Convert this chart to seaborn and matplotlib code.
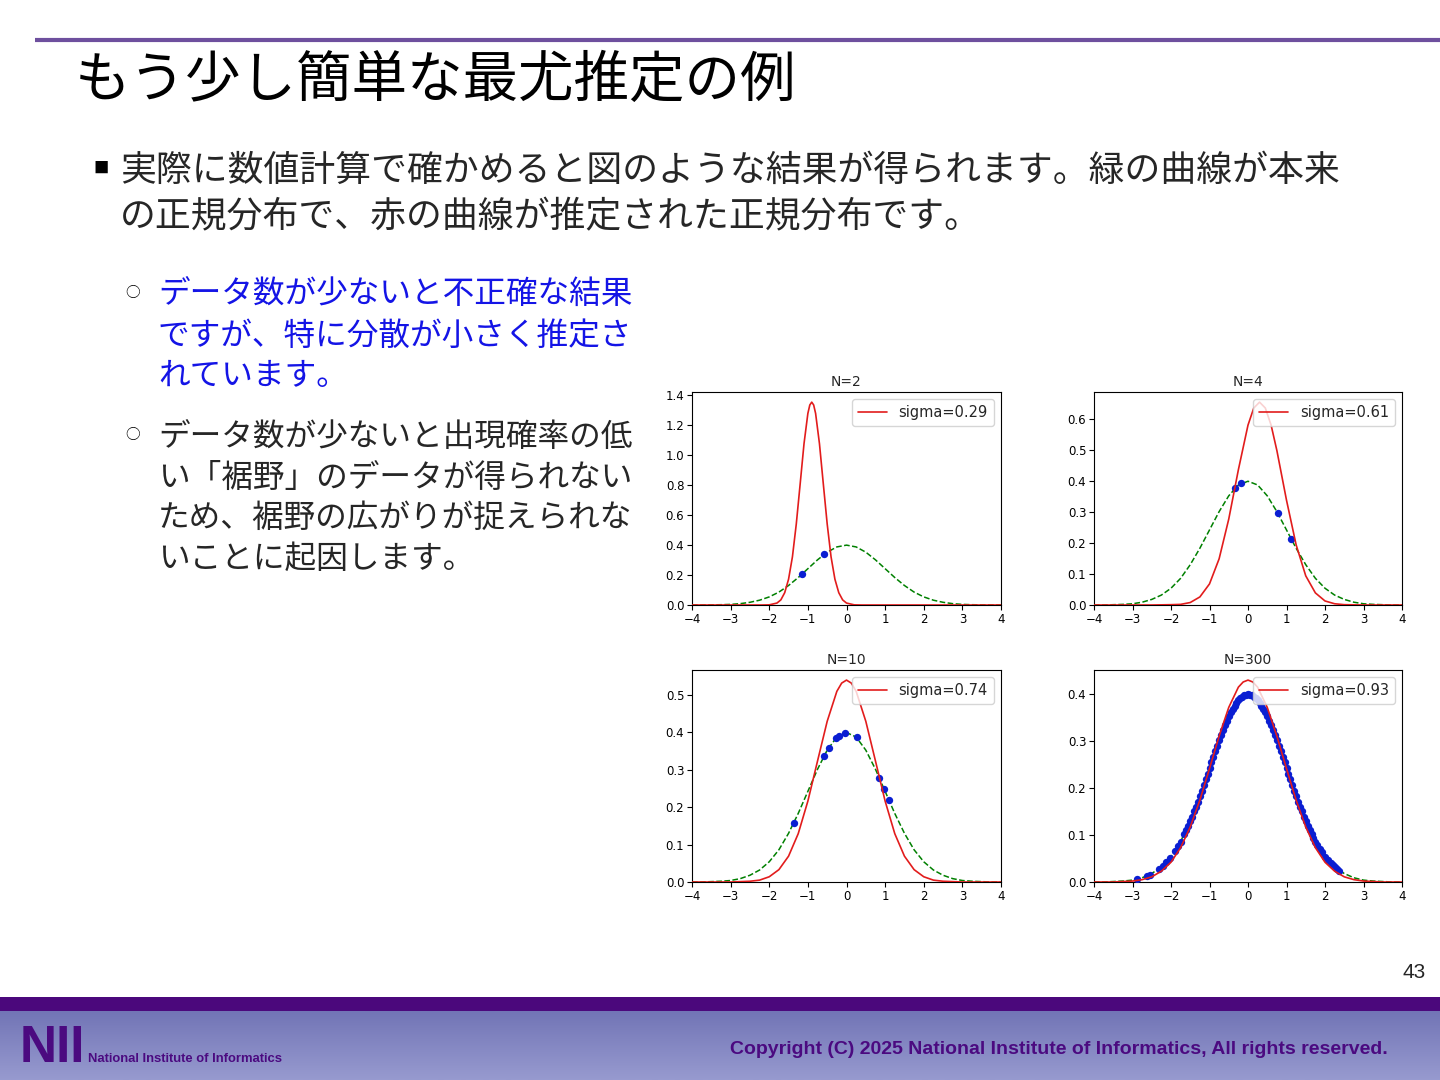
import numpy as np
import matplotlib
matplotlib.use("Agg")
import matplotlib.pyplot as plt
from matplotlib.patches import Rectangle
from matplotlib.colors import LinearSegmentedColormap
import seaborn as sns

# ---------------- slide text ----------------
TITLE = "もう少し簡単な最尤推定の例"
BULLET_LINES = ["実際に数値計算で確かめると図のような結果が得られます。緑の曲線が本来",
                "の正規分布で、赤の曲線が推定された正規分布です。"]
SUB1_LINES = ["データ数が少ないと不正確な結果",
              "ですが、特に分散が小さく推定さ",
              "れています。"]
SUB2_LINES = ["データ数が少ないと出現確率の低",
              "い「裾野」のデータが得られない",
              "ため、裾野の広がりが捉えられな",
              "いことに起因します。"]
PAGE_NO = "43"
COPYRIGHT = "Copyright (C) 2025 National Institute of Informatics, All rights reserved."

# ---------------- chart data ----------------
TRUE_X = [-4.0, -3.75, -3.5, -3.25, -3.0, -2.75, -2.5, -2.25, -2.0, -1.75, -1.5, -1.25, -1.0,
          -0.75, -0.5, -0.25, 0.0, 0.25, 0.5, 0.75, 1.0, 1.25, 1.5, 1.75, 2.0, 2.25, 2.5,
          2.75, 3.0, 3.25, 3.5, 3.75, 4.0]
TRUE_Y = [0.000, 0.000, 0.001, 0.002, 0.004, 0.009, 0.018, 0.032, 0.054, 0.086, 0.130, 0.183, 0.242,
          0.301, 0.352, 0.387, 0.399, 0.387, 0.352, 0.301, 0.242, 0.183, 0.130, 0.086, 0.054, 0.032,
          0.018, 0.009, 0.004, 0.002, 0.001, 0.000, 0.000]

# N=2
RED2_X = [-4.0, -3.0, -2.2, -2.0, -1.8, -1.7, -1.6, -1.5, -1.4, -1.3, -1.2, -1.1, -1.0, -0.95,
          -0.9, -0.85, -0.8, -0.7, -0.6, -0.5, -0.4, -0.3, -0.2, -0.1, 0.0, 0.2, 0.4, 1.0, 2.0, 3.0, 4.0]
RED2_Y = [0.0, 0.0, 0.0, 0.001, 0.013, 0.034, 0.082, 0.172, 0.321, 0.540, 0.806, 1.075, 1.277, 1.333,
          1.352, 1.333, 1.277, 1.075, 0.806, 0.540, 0.321, 0.172, 0.082, 0.034, 0.013, 0.001, 0.0, 0.0,
          0.0, 0.0, 0.0]
PTS2_X = [-1.15, -0.58]
PTS2_Y = [0.206, 0.337]

# N=4
RED4_X = [-4.0, -3.0, -2.5, -2.0, -1.75, -1.5, -1.25, -1.0, -0.75, -0.5, -0.25, 0.0, 0.15, 0.3,
          0.45, 0.6, 0.75, 1.0, 1.25, 1.5, 1.75, 2.0, 2.25, 2.5, 3.0, 4.0]
RED4_Y = [0.0, 0.0, 0.0, 0.001, 0.002, 0.008, 0.026, 0.068, 0.149, 0.277, 0.436, 0.580, 0.635, 0.654,
          0.635, 0.580, 0.498, 0.338, 0.194, 0.094, 0.039, 0.013, 0.004, 0.001, 0.0, 0.0]
PTS4_X = [-0.33, -0.17, 0.77, 1.12]
PTS4_Y = [0.377, 0.393, 0.297, 0.213]

# N=10
RED10_X = [-4.0, -3.0, -2.75, -2.5, -2.25, -2.0, -1.75, -1.5, -1.25, -1.0, -0.75, -0.5, -0.25,
           -0.125, 0.0, 0.125, 0.25, 0.5, 0.75, 1.0, 1.25, 1.5, 1.75, 2.0, 2.25, 2.5, 2.75, 3.0, 4.0]
RED10_Y = [0.0, 0.0, 0.001, 0.002, 0.005, 0.014, 0.033, 0.069, 0.129, 0.216, 0.323, 0.429, 0.509,
           0.531, 0.539, 0.531, 0.509, 0.429, 0.323, 0.216, 0.129, 0.069, 0.033, 0.014, 0.005, 0.002,
           0.001, 0.0, 0.0]
PTS10_X = [-1.36, -0.58, -0.46, -0.28, -0.20, -0.04, 0.26, 0.85, 0.97, 1.10]
PTS10_Y = [0.158, 0.337, 0.359, 0.384, 0.391, 0.399, 0.386, 0.278, 0.249, 0.218]

# N=300
RED300_X = [-4.0, -3.5, -3.0, -2.75, -2.5, -2.25, -2.0, -1.75, -1.5, -1.25, -1.0, -0.75, -0.5,
            -0.25, -0.125, 0.0, 0.125, 0.25, 0.5, 0.75, 1.0, 1.25, 1.5, 1.75, 2.0, 2.25, 2.5, 2.75,
            3.0, 3.5, 4.0]
RED300_Y = [0.0, 0.0, 0.002, 0.005, 0.011, 0.023, 0.042, 0.073, 0.117, 0.174, 0.241, 0.310, 0.371,
            0.414, 0.425, 0.429, 0.425, 0.414, 0.371, 0.310, 0.241, 0.174, 0.117, 0.073, 0.042, 0.023,
            0.011, 0.005, 0.002, 0.0, 0.0]
PTS300_X = [-2.88, -2.62, -2.55, -2.30, -2.22, -2.12, -2.02, -1.90, -1.82, -1.75, -1.66,
            -1.60, -1.55, -1.50, -1.45, -1.40, -1.35, -1.30, -1.25, -1.20, -1.15, -1.10, -1.05,
            -1.00, -0.95, -0.90, -0.85, -0.80, -0.75, -0.70, -0.65, -0.60, -0.55, -0.50, -0.45,
            -0.40, -0.35, -0.30, -0.25, -0.20, -0.15, -0.10, -0.05, 0.00, 0.05, 0.10, 0.15, 0.20,
            0.25, 0.30, 0.35, 0.40, 0.45, 0.50, 0.55, 0.60, 0.65, 0.70, 0.75, 0.80, 0.85, 0.90,
            0.95, 1.00, 1.05, 1.10, 1.15, 1.20, 1.25, 1.30, 1.35, 1.40, 1.45, 1.50, 1.55, 1.60,
            1.65, 1.70, 1.75, 1.80, 1.86, 1.92, 2.00, 2.08, 2.15, 2.20, 2.26, 2.32, 2.37]
PTS300_Y = [0.006, 0.013, 0.015, 0.028, 0.034, 0.042, 0.052, 0.066, 0.076, 0.086, 0.101,
            0.111, 0.120, 0.130, 0.139, 0.150, 0.160, 0.171, 0.183, 0.194, 0.206, 0.218, 0.230,
            0.242, 0.254, 0.266, 0.278, 0.290, 0.301, 0.312, 0.323, 0.333, 0.343, 0.352, 0.361,
            0.368, 0.375, 0.381, 0.387, 0.391, 0.394, 0.397, 0.398, 0.399, 0.398, 0.397, 0.394,
            0.391, 0.387, 0.381, 0.375, 0.368, 0.361, 0.352, 0.343, 0.333, 0.323, 0.312, 0.301,
            0.290, 0.278, 0.266, 0.254, 0.242, 0.230, 0.218, 0.206, 0.194, 0.183, 0.171, 0.160,
            0.150, 0.139, 0.130, 0.120, 0.111, 0.102, 0.094, 0.086, 0.079, 0.071, 0.063, 0.054,
            0.046, 0.040, 0.036, 0.031, 0.027, 0.024]

PANELS = [
    dict(title="N=2", label="sigma=0.29", rx=RED2_X, ry=RED2_Y, px=PTS2_X, py=PTS2_Y,
         box=(692, 392, 1001, 605)),
    dict(title="N=4", label="sigma=0.61", rx=RED4_X, ry=RED4_Y, px=PTS4_X, py=PTS4_Y,
         box=(1094, 392, 1402, 605)),
    dict(title="N=10", label="sigma=0.74", rx=RED10_X, ry=RED10_Y, px=PTS10_X, py=PTS10_Y,
         box=(692, 670, 1001, 882)),
    dict(title="N=300", label="sigma=0.93", rx=RED300_X, ry=RED300_Y, px=PTS300_X, py=PTS300_Y,
         box=(1094, 670, 1402, 882)),
]

W, H = 1440, 1080
JP = ["Noto Sans CJK JP", "DejaVu Sans"]

sns.set_style("ticks")
plt.rcParams["font.family"] = ["DejaVu Sans", "Noto Sans CJK JP"]
plt.rcParams["axes.edgecolor"] = "black"
plt.rcParams["xtick.color"] = "black"
plt.rcParams["ytick.color"] = "black"

fig = plt.figure(figsize=(W / 100, H / 100), dpi=100)

# background / slide decoration, in pixel coordinates
bg = fig.add_axes([0, 0, 1, 1], zorder=0)
grad = np.linspace(0, 1, 64).reshape(-1, 1)
cmap = LinearSegmentedColormap.from_list("foot", ["#7275b6", "#979acf"])
bg.imshow(grad, extent=(0, W, H, 1011), aspect="auto", cmap=cmap, interpolation="bilinear")
bg.add_patch(Rectangle((0, 997), W, 14, color="#4b087c", lw=0))
bg.plot([35, W], [39.5, 39.5], color="#6e4f9e", lw=3.0, solid_capstyle="butt")
bg.set_xlim(0, W)
bg.set_ylim(H, 0)
bg.axis("off")

bg.text(75, 81, TITLE, family=JP, fontsize=40, va="center", ha="left", color="black")
bg.text(101, 168, "■", family=JP, fontsize=11, va="center", ha="center", color="black")
for i, line in enumerate(BULLET_LINES):
    bg.text(120, 171 + i * 46, line, family=JP, fontsize=25.8, va="center", ha="left")

bg.text(133, 293, "○", family=JP, fontsize=10.5, va="center", ha="center", color="black")
for i, line in enumerate(SUB1_LINES):
    bg.text(158, 295 + i * 40.5, line, family=JP, fontsize=22.8, va="center", ha="left",
            color="#1414e6")
bg.text(133, 435, "○", family=JP, fontsize=10.5, va="center", ha="center", color="black")
for i, line in enumerate(SUB2_LINES):
    bg.text(158, 437 + i * 40.5, line, family=JP, fontsize=22.8, va="center", ha="left")

bg.text(1426, 972, PAGE_NO, family="Liberation Sans", fontsize=15, va="center", ha="right")

bg.text(20, 1048, "NII", family="Liberation Sans", fontweight="bold", fontsize=37,
        va="center", ha="left", color="#4b0a80")
bg.text(88, 1059, "National Institute of Informatics", family="Liberation Sans",
        fontweight="bold", fontsize=9.4, va="center", ha="left", color="#4b0a80")
bg.text(1388, 1050, COPYRIGHT, family="Liberation Sans", fontweight="bold", fontsize=14,
        va="center", ha="right", color="#4b0a80")

# the four panels
for p in PANELS:
    l, t, r, b = p["box"]
    ax = fig.add_axes([l / W, 1 - b / H, (r - l) / W, (b - t) / H], zorder=2)
    ax.set_facecolor("white")
    sns.lineplot(x=TRUE_X, y=TRUE_Y, ax=ax, color="green", linestyle="--", lw=1.1)
    sns.scatterplot(x=p["px"], y=p["py"], ax=ax, color="#0a1ed2", s=28, linewidth=0, zorder=3)
    sns.lineplot(x=p["rx"], y=p["ry"], ax=ax, color="#e21c1c", lw=1.2, label=p["label"],
                 zorder=4)
    ax.set_xlim(-4, 4)
    ax.set_ylim(bottom=0)
    ax.set_xticks([-4, -3, -2, -1, 0, 1, 2, 3, 4])
    ax.tick_params(labelsize=8.5, length=3.5, width=0.8, pad=2)
    for s in ax.spines.values():
        s.set_linewidth(0.8)
    ax.set_title(p["title"], fontsize=10, pad=4)
    ax.legend(loc="upper right", fontsize=10.5, frameon=True)

fig.savefig("out.png", dpi=100)
